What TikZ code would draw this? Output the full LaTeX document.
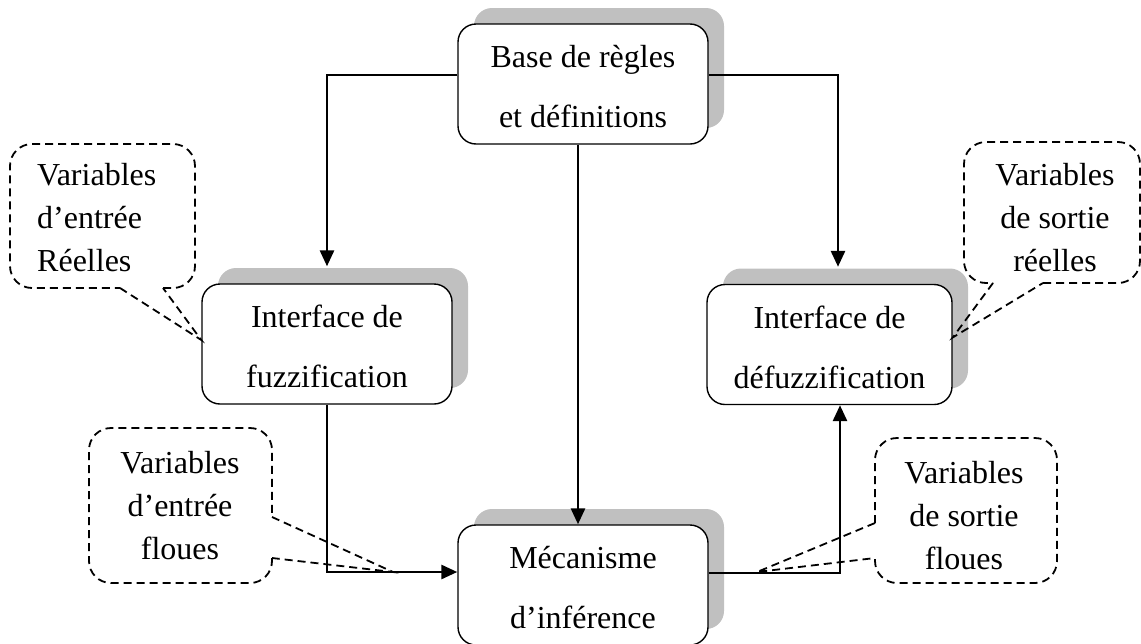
\documentclass[tikz,border=0pt]{standalone}
\usepackage{fontspec}
\setmainfont{Liberation Serif}
\usetikzlibrary{arrows.meta,shadows,calc}
\definecolor{shadowgray}{RGB}{192,192,192}
\begin{document}
\begin{tikzpicture}[x=1pt,y=-1pt,
  box/.style={draw, line width=1.4pt, rounded corners=18pt, fill=white,
    minimum width=250pt, minimum height=120pt, inner sep=0pt, align=center,
    font=\fontsize{32}{60}\selectfont,
    drop shadow={shadow xshift=16pt,shadow yshift=16pt,fill=shadowgray,opacity=1}},
  conn/.style={line width=2.8pt},
  arr/.style={conn,-{Triangle[length=16pt,width=14pt]}},
  callout/.style={line width=1.8pt, dash pattern=on 8pt off 5pt},
  ctext/.style={inner sep=0pt, font=\fontsize{32}{43}\selectfont},
]
\useasboundingbox (0,0) rectangle (1141,643);

% boxes
\node[box] (base) at (583,84) {\rule{0pt}{28pt}Base de règles\\et définitions};
\node[box] (fuzz) at (327,344) {\rule{0pt}{28pt}Interface de\\fuzzification};
\node[box, minimum width=245pt] (defuzz) at (829.5,344.5) {\rule{0pt}{28pt}Interface de\\défuzzification};
\node[box] (meca) at (583,585) {\rule{0pt}{28pt}Mécanisme\\d’inférence};

% connectors
\draw[arr, shorten >=17pt] ([yshift=9pt]base.west) -| (fuzz.north);
\draw[arr, shorten >=17pt] ([yshift=9pt]base.east) -| ([xshift=8.5pt]defuzz.north);
\draw[arr] ([xshift=-5pt]base.south) -- ([xshift=-5pt]meca.north);
\draw[arr] (fuzz.south) |- ([yshift=13pt]meca.west);
\draw[arr] ([yshift=12pt]meca.east) -| ([xshift=10.5pt]defuzz.south);

% callout tips
\coordinate (t1) at ([yshift=4pt]fuzz.west);
\coordinate (t2) at (393,572);
\coordinate (t3) at (757,572);
\coordinate (t4) at ([yshift=7pt]defuzz.east);

% callout texts
\node[ctext, anchor=north west, align=left] (c1) at (37,161) {\rule{0pt}{24pt}Variables\\d’entrée\\Réelles};
\node[ctext, anchor=north, align=center] (c2) at (180,449) {\rule{0pt}{24pt}Variables\\d’entrée\\floues};
\node[ctext, anchor=north, align=center] (c3) at (964,459) {\rule{0pt}{24pt}Variables\\de sortie\\floues};
\node[ctext, anchor=north, align=center] (c4) at (1055,161) {\rule{0pt}{24pt}Variables\\de sortie\\réelles};

% callout outlines
\draw[callout, rounded corners=22pt] (163,288) -- (195,288) -- (195,144) -- (10,144) -- (10,288) -- (120,288);
\draw[callout] (120,288) -- (t1) -- (163,288);

\draw[callout, rounded corners=22pt] (272,558) -- (272,583) -- (89,583) -- (89,428) -- (272,428) -- (272,517);
\draw[callout] (272,517) -- (t2) -- (272,558);

\draw[callout, rounded corners=22pt] (875,523) -- (875,438) -- (1057,438) -- (1057,583) -- (875,583) -- (875,558);
\draw[callout] (875,523) -- (t3) -- (875,558);

\draw[callout, rounded corners=22pt] (1043,283) -- (1140,283) -- (1140,142) -- (964,142) -- (964,283) -- (993,283);
\draw[callout] (993,283) -- (t4) -- (1043,283);
\end{tikzpicture}
\end{document}
